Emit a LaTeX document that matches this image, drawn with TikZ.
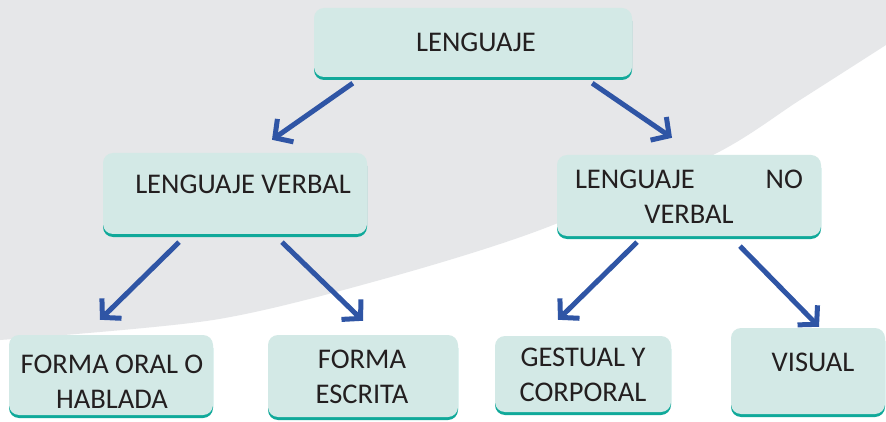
\documentclass[tikz,border=0pt]{standalone}
\usepackage{fontspec}
\setmainfont{Carlito}
\usetikzlibrary{arrows.meta,calc}
\definecolor{bggray}{HTML}{E6E7E9}
\definecolor{boxfill}{HTML}{D3E9E6}
\definecolor{boxteal}{HTML}{10A99A}
\definecolor{arrblue}{HTML}{2F55A5}
\definecolor{txtc}{HTML}{231F20}
\tikzset{
  boxbase/.style={rectangle, rounded corners=10pt, inner sep=0pt, draw=none},
  tealbox/.style={boxbase, fill=boxteal},
  lightbox/.style={boxbase, fill=boxfill},
  lbl/.style={anchor=base, inner sep=0pt, text=txtc, align=center,
    font=\fontsize{28.5}{34.5}\selectfont},
  arr/.style={line width=5pt, draw=arrblue,
    -{Straight Barb[length=13pt, width=28pt, sharp]}}
}
\newcommand{\mybox}[5]{%
  \node[tealbox, minimum width=#4pt, minimum height=#5pt] (#1-sh) at (#2,#3+3) {};
  \node[lightbox, minimum width=#4pt, minimum height=#5pt] (#1) at (#2,#3) {};
}
\begin{document}
\begin{tikzpicture}[x=1pt,y=-1pt]
\useasboundingbox (0,0) rectangle (886,422);
\fill[white] (0,0) rectangle (886,422);
\fill[bggray] (0,0) -- (886,0) -- plot[smooth] coordinates {(886,45) (800,100) (713,155) (540,230) (380,280) (213,320) (0,340)} -- cycle;

\mybox{top}{473}{42.5}{318}{69}
\mybox{lv}{235}{193.5}{264}{81}
\mybox{lnv}{689}{195.5}{264}{81}
\mybox{foh}{111}{375}{204}{80}
\mybox{fe}{363}{376}{190}{82}
\mybox{gc}{583}{374}{176}{76}
\mybox{vis}{808}{371}{154}{86}

% anchor=base of a multi-line node lies on its last line
\node[lbl] (t0) at (476,52) {LENGUAJE};
\node[lbl] (t1) at (243,194) {LENGUAJE VERBAL};
\node[lbl] (t2) at (689,223) {\makebox[228pt][s]{LENGUAJE\hfill NO}\\VERBAL};
\node[lbl] (t3) at (112,408) {FORMA ORAL O\\HABLADA};
\node[lbl] (t4) at (362,403) {FORMA\\ESCRITA};
\node[lbl] (t5) at (583,401) {GESTUAL Y\\CORPORAL};
\node[lbl] (t6) at (813,371) {VISUAL};

\draw[arr] ([xshift=39pt,yshift=-6pt]top.south west) -- ([xshift=37pt,yshift=13pt]lv.north);
\draw[arr] ([xshift=-40pt,yshift=-6pt]top.south east) -- ([xshift=-17pt,yshift=17pt]lnv.north);
\draw[arr] ([xshift=-56pt,yshift=-8pt]lv.south) -- ([xshift=-11pt,yshift=15pt]foh.north);
\draw[arr] ([xshift=47pt,yshift=-8pt]lv.south) -- ([xshift=0pt,yshift=14pt]fe.north);
\draw[arr] ([xshift=-52pt,yshift=-6pt]lnv.south) -- ([xshift=-25pt,yshift=16pt]gc.north);
\draw[arr] ([xshift=51pt,yshift=-10pt]lnv.south) -- ([xshift=11pt,yshift=1pt]vis.north);
\end{tikzpicture}
\end{document}
